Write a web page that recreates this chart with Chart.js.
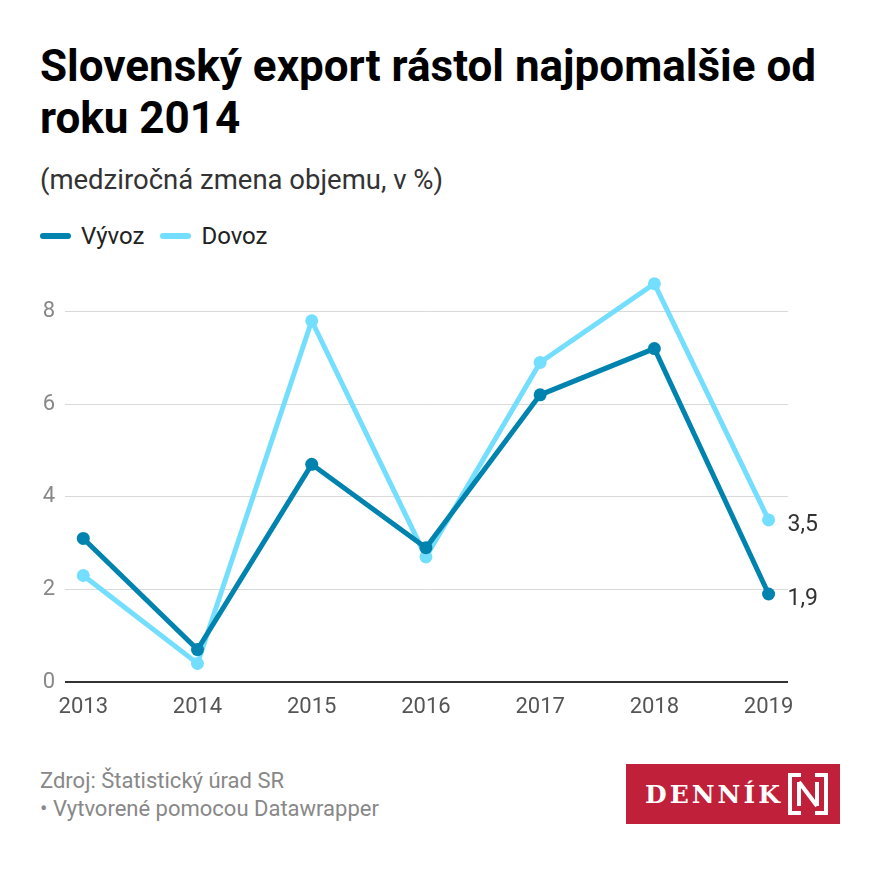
<!DOCTYPE html>
<html>
<head>
<meta charset="utf-8">
<script src="https://cdn.jsdelivr.net/npm/chart.js@4.4.1/dist/chart.umd.min.js"></script>
<style>
    body { margin: 0; background: #fff; font-family: Roboto, sans-serif; }
    #wrap { position: relative; width: 880px; height: 880px; overflow: hidden; }
    h1 { position: absolute; left: 40px; top: 40px; margin: 0; width: 800px;
         font-size: 44px; line-height: 52px; font-weight: 700; color: #000; }
    .sub { position: absolute; left: 40px; top: 163px; font-size: 27.5px; color: #333; }
    .legend { position: absolute; left: 40px; top: 222px; font-size: 24px; color: #222; display: flex; }
    .legend span { display: flex; align-items: center; margin-right: 16px; }
    .legend i { display: inline-block; width: 31px; height: 6px; border-radius: 3px; margin-right: 10px; }
    #chartBox { position: absolute; left: 0; top: 242px; width: 880px; height: 488px; }
    .foot { position: absolute; left: 40px; top: 767px; font-size: 22px; line-height: 28px; color: #888; }
    .logo { position: absolute; left: 626px; top: 764px; width: 214px; height: 60px; background: #c0203a;
            color: #fff; display: flex; align-items: center; }
    .logo b { font-family: "DejaVu Serif", serif; font-size: 25px; font-weight: 700; letter-spacing: 3px; margin-left: 19px; }
</style>
</head>
<body>
<div id="wrap">
    <h1>Slovenský export rástol najpomalšie od roku 2014</h1>
    <div class="sub">(medziročná zmena objemu, v %)</div>
    <div class="legend">
        <span><i style="background:#0083ae"></i>Vývoz</span>
        <span><i style="background:#74deff"></i>Dovoz</span>
    </div>
    <div id="chartBox"><canvas id="exportChart"></canvas></div>
    <div class="foot">Zdroj: Štatistický úrad SR<br>• Vytvorené pomocou Datawrapper</div>
    <div class="logo">
        <b>DENNÍK</b>
        <svg width="42" height="44" viewBox="0 0 42 44" style="margin-left:4px">
            <path d="M14 3 H3 V41 H14" fill="none" stroke="#fff" stroke-width="4"/>
            <path d="M28 3 H39 V41 H28" fill="none" stroke="#fff" stroke-width="4"/>
            <path d="M12 10 V34 M12 10 L30 34 M30 10 V34" fill="none" stroke="#fff" stroke-width="4"/>
        </svg>
    </div>
</div>
<script>
const roky = [2013, 2014, 2015, 2016, 2017, 2018, 2019];
const vyvoz = [3.1, 0.7, 4.7, 2.9, 6.2, 7.2, 1.9];
const dovoz = [2.3, 0.4, 7.8, 2.7, 6.9, 8.6, 3.5];
const yTicky = [0, 2, 4, 6, 8];

function body(hodnoty) {
    return roky.map((rok, i) => ({ x: rok, y: hodnoty[i] }));
}

// popisky poslednej hodnoty vpravo
const koncovePopisky = {
    id: 'koncovePopisky',
    afterDatasetsDraw(chart) {
        const ctx = chart.ctx;
        ctx.save();
        ctx.font = '23px Roboto';
        ctx.fillStyle = '#333';
        ctx.textBaseline = 'middle';
        chart.data.datasets.forEach((ds, i) => {
            const meta = chart.getDatasetMeta(i);
            const last = meta.data[meta.data.length - 1];
            const val = ds.data[ds.data.length - 1].y;
            ctx.fillText(val.toFixed(1).replace('.', ','), last.x + 19, last.y + 5);
        });
        ctx.restore();
    }
};

const ctx = document.getElementById('exportChart').getContext('2d');
new Chart(ctx, {
    type: 'line',
    data: {
        datasets: [{
            label: 'Vývoz',
            data: body(vyvoz),
            borderColor: '#0083ae',
            backgroundColor: '#0083ae',
            borderWidth: 5,
            pointRadius: 6.5,
            pointBorderWidth: 0,
            tension: 0
        }, {
            label: 'Dovoz',
            data: body(dovoz),
            borderColor: '#74deff',
            backgroundColor: '#74deff',
            borderWidth: 5,
            pointRadius: 6.5,
            pointBorderWidth: 0,
            tension: 0
        }]
    },
    options: {
        responsive: true,
        maintainAspectRatio: false,
        animation: false,
        layout: { padding: { top: 6, right: 92, left: 0, bottom: 0 } },
        plugins: { legend: { display: false }, tooltip: { enabled: false } },
        scales: {
            x: {
                type: 'linear',
                min: 2012.84,
                max: 2019.17,
                afterBuildTicks: (scale) => { scale.ticks = roky.map(r => ({ value: r })); },
                afterFit: (scale) => { scale.height = 48; },
                grid: { display: false },
                border: { display: false },
                ticks: {
                    callback: (v) => String(v),
                    color: '#555',
                    font: { family: 'Roboto', size: 22 },
                    padding: 4,
                    maxRotation: 0
                }
            },
            y: {
                min: 0,
                max: 9,
                afterBuildTicks: (scale) => { scale.ticks = yTicky.map(v => ({ value: v })); },
                afterFit: (scale) => { scale.width = 65; },
                border: { display: false },
                grid: {
                    drawTicks: false,
                    color: (c) => c.tick && c.tick.value === 0 ? '#333' : '#d9d9d9',
                    lineWidth: (c) => c.tick && c.tick.value === 0 ? 2 : 1
                },
                ticks: {
                    color: '#888',
                    font: { family: 'Roboto', size: 22 },
                    padding: 10
                }
            }
        }
    },
    plugins: [koncovePopisky]
});
</script>
</body>
</html>
